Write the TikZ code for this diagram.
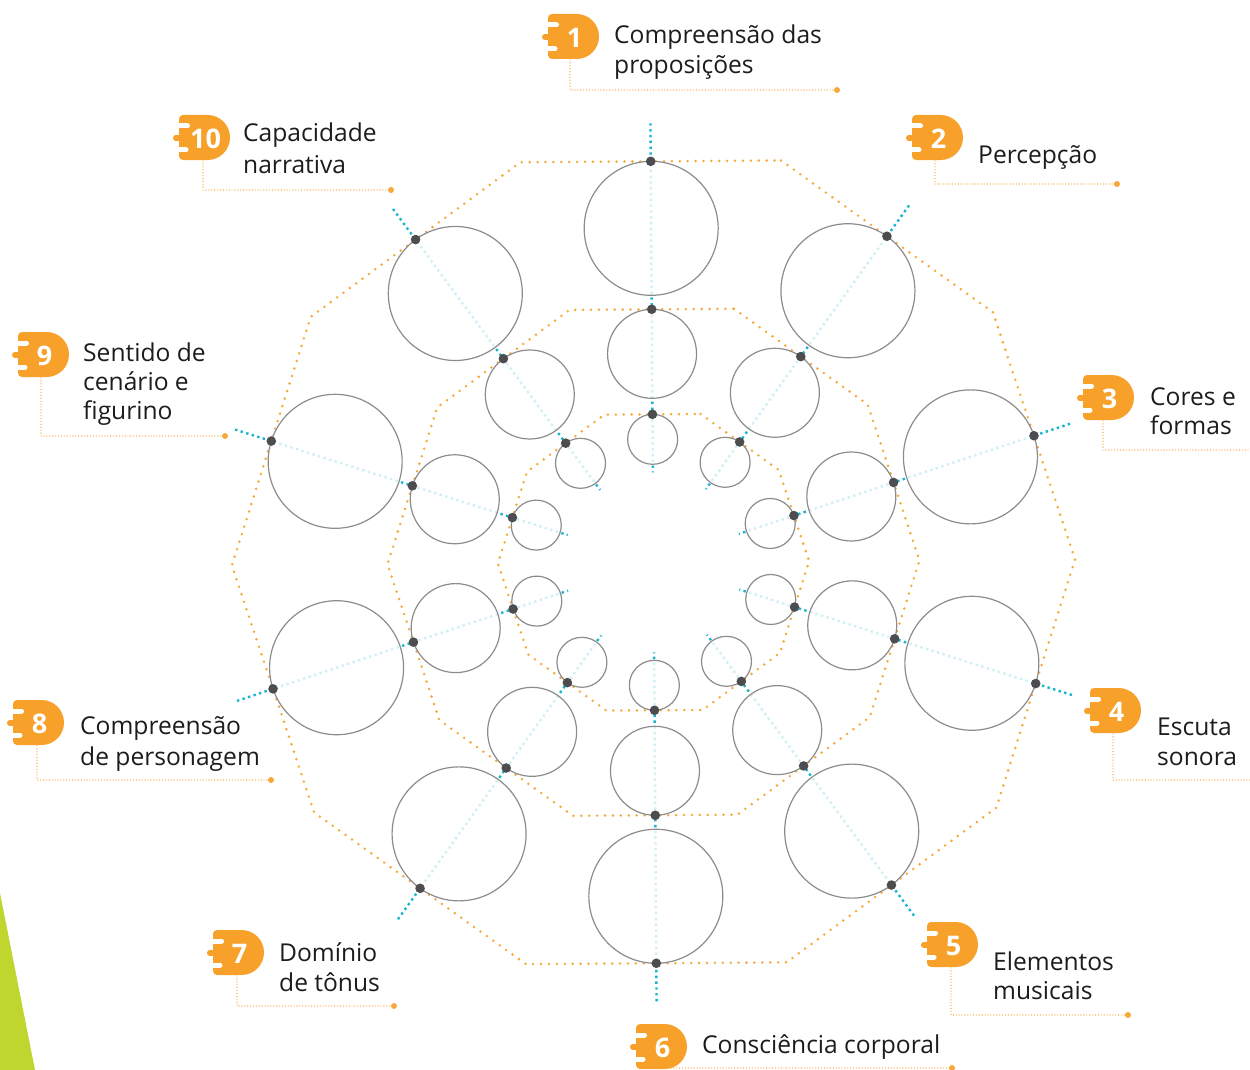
\documentclass[tikz,border=0pt]{standalone}
\usepackage{fontspec}
\setmainfont{Open Sans}
\definecolor{bor}{HTML}{F7A12A}
\definecolor{dor}{HTML}{F6A83B}
\definecolor{cy}{HTML}{18B4D0}
\definecolor{gr}{HTML}{8C8C8C}
\definecolor{dg}{HTML}{4D4D4F}
\definecolor{tx}{HTML}{1E1B1C}
\definecolor{lime}{HTML}{BFD62F}
\begin{document}
\begin{tikzpicture}[x=1pt,y=-1pt,
  poly/.style={dor, line width=2.8pt, dash pattern=on 0pt off 7.9pt, line cap=round},
  spoke/.style={cy, line width=2.4pt, dash pattern=on 2.4pt off 3.4pt},
  ring/.style={draw=gr, line width=1.2pt, fill=white, fill opacity=0.8},
  hub/.style={fill=dg},
  lead/.style={dor, line width=1.4pt, dash pattern=on 0pt off 2.9pt, line cap=round},
  leadend/.style={fill=dor},
  lbl/.style={anchor=base west, inner sep=0pt, text=tx, font=\fontsize{24.6}{30}\selectfont},
  num/.style={inner sep=0pt, text=white, font=\bfseries\fontsize{27}{27}\selectfont},
  badge/.pic={
    \fill[bor] (6,20) [rounded corners=4pt] -- (6,0) [rounded corners=22.4pt] -- (57,0) -- (57,45) [rounded corners=4pt] -- (6,45) [sharp corners] -- cycle;
    \draw[bor, line width=5.5pt, line cap=round] (2.75,23) -- (14,23);
    \draw[white, line width=5pt, line cap=round] (1,11) -- (14.5,11);
    \draw[white, line width=5pt, line cap=round] (1,35) -- (13,35);
    \node[num] (-n) at (32.5,23.5) {#1};
  }]
\useasboundingbox (0,0) rectangle (1250,1070);
\fill[lime] (0,893) -- (35,1070) -- (0,1070) -- cycle;

% geometry
\def\cx{653.5}\def\cy{562.3}
\foreach \k in {1,...,10} {
  \pgfmathsetmacro\t{90.4-36*(\k-1)}
  \coordinate (so\k) at ({\cx+439*cos(\t)},{\cy-439*sin(\t)});
  \coordinate (si\k) at ({\cx+90*cos(\t)},{\cy-90*sin(\t)});
  \coordinate (do\k) at ({\cx+401*cos(\t)},{\cy-401*sin(\t)});
  \coordinate (dm\k) at ({\cx+253*cos(\t)},{\cy-253*sin(\t)});
  \coordinate (di\k) at ({\cx+148*cos(\t)},{\cy-148*sin(\t)});
  \coordinate (co\k) at ({\cx+334*cos(\t)},{\cy-334*sin(\t)});
  \coordinate (cm\k) at ({\cx+208.5*cos(\t)},{\cy-208.5*sin(\t)});
  \coordinate (ci\k) at ({\cx+123*cos(\t)},{\cy-123*sin(\t)});
  \pgfmathsetmacro\v{\t-18}
  \coordinate (vo\k) at ({\cx+421.6*cos(\v)},{\cy-421.6*sin(\v)});
  \coordinate (vm\k) at ({\cx+266.0*cos(\v)},{\cy-266.0*sin(\v)});
  \coordinate (vi\k) at ({\cx+155.6*cos(\v)},{\cy-155.6*sin(\v)});
}

% dotted decagons
\draw[poly] (vo1) -- (vo2) -- (vo3) -- (vo4) -- (vo5) -- (vo6) -- (vo7) -- (vo8) -- (vo9) -- (vo10) -- cycle;
\draw[poly] (vm1) -- (vm2) -- (vm3) -- (vm4) -- (vm5) -- (vm6) -- (vm7) -- (vm8) -- (vm9) -- (vm10) -- cycle;
\draw[poly] (vi1) -- (vi2) -- (vi3) -- (vi4) -- (vi5) -- (vi6) -- (vi7) -- (vi8) -- (vi9) -- (vi10) -- cycle;

% spokes
\foreach \k in {1,...,10} { \draw[spoke] (so\k) -- (si\k); }

% circles
\foreach \k in {1,...,10} {
  \draw[ring] (co\k) circle[radius=67pt];
  \draw[ring] (cm\k) circle[radius=44.5pt];
  \draw[ring] (ci\k) circle[radius=25pt];
}

% hub dots
\foreach \k in {1,...,10} {
  \fill[hub] (do\k) circle[radius=4.8pt];
  \fill[hub] (dm\k) circle[radius=4.8pt];
  \fill[hub] (di\k) circle[radius=4.8pt];
}

% badges
\pic (b1) at (542,14) {badge=1};
\pic (b2) at (906,115) {badge=2};
\pic (b3) at (1077,375) {badge=3};
\pic (b4) at (1084,688) {badge=4};
\pic (b5) at (921,922) {badge=5};
\pic (b6) at (630,1024) {badge=6};
\pic (b7) at (207,930) {badge=7};
\pic (b8) at (7,700) {badge=8};
\pic (b9) at (12,332) {badge=9};
\pic (b10) at (173,115) {badge=10};

% leader lines
\coordinate (l1a) at (570,60); \coordinate (l1b) at (570,90); \coordinate (l1c) at (837,90);
\coordinate (l2a) at (935,161); \coordinate (l2b) at (935,184); \coordinate (l2c) at (1117,184);
\coordinate (l3a) at (1103,421); \coordinate (l3b) at (1103,450); \coordinate (l3c) at (1250,450);
\coordinate (l4a) at (1113,734); \coordinate (l4b) at (1113,780); \coordinate (l4c) at (1250,780);
\coordinate (l5a) at (951,968); \coordinate (l5b) at (951,1015); \coordinate (l5c) at (1128,1015);
\coordinate (l6b) at (668,1068); \coordinate (l6c) at (952,1068);
\coordinate (l7a) at (237,976); \coordinate (l7b) at (237,1006); \coordinate (l7c) at (394,1006);
\coordinate (l8a) at (37,746); \coordinate (l8b) at (37,780); \coordinate (l8c) at (271,780);
\coordinate (l9a) at (41,378); \coordinate (l9b) at (41,436); \coordinate (l9c) at (225,436);
\coordinate (l10a) at (203,161); \coordinate (l10b) at (203,190); \coordinate (l10c) at (391,190);
\foreach \k in {1,2,3,4,5,7,8,9,10} { \draw[lead] (l\k a) -- (l\k b) -- (l\k c); }
\draw[lead] (l6b) -- (l6c);
\foreach \k in {1,2,5,6,7,8,9,10} { \fill[leadend] (l\k c) circle[radius=3pt]; }

% labels
\node[lbl] (t1a) at (614,44) {Compreensão das};
\node[lbl] (t1b) at (614,74) {proposições};
\node[lbl] (t2a) at (978,164) {Percepção};
\node[lbl] (t3a) at (1150,405) {Cores e};
\node[lbl] (t3b) at (1150,434) {formas};
\node[lbl] (t4a) at (1157,735) {Escuta};
\node[lbl] (t4b) at (1157,765) {sonora};
\node[lbl] (t5a) at (993,970) {Elementos};
\node[lbl] (t5b) at (993,999) {musicais};
\node[lbl] (t6a) at (702,1053) {Consciência corporal};
\node[lbl] (t7a) at (279,961) {Domínio};
\node[lbl] (t7b) at (279,991) {de tônus};
\node[lbl] (t8a) at (80,734) {Compreensão};
\node[lbl] (t8b) at (80,765) {de personagem};
\node[lbl] (t9a) at (83,361) {Sentido de};
\node[lbl] (t9b) at (83,390) {cenário e};
\node[lbl] (t9c) at (83,419) {figurino};
\node[lbl] (t10a) at (243,142) {Capacidade};
\node[lbl] (t10b) at (243,173) {narrativa};
\end{tikzpicture}
\end{document}
